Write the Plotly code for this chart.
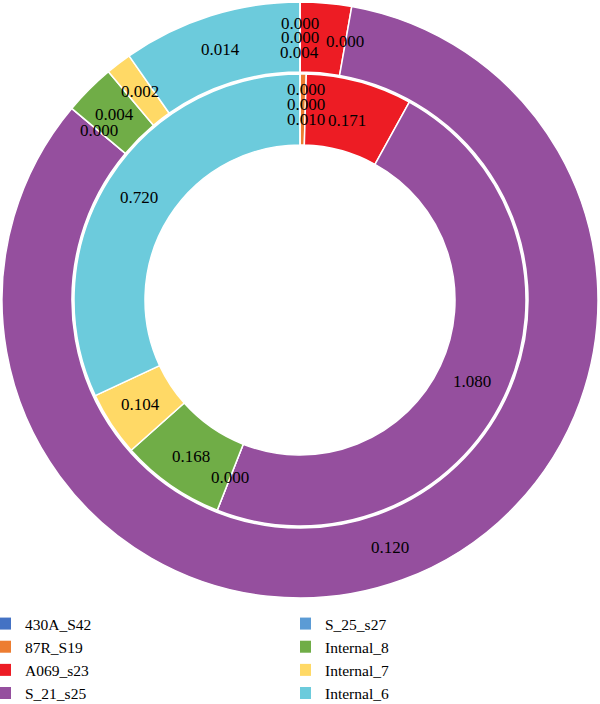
import math
import plotly.graph_objects as go

# ---- data ----
labels = ["430A_S42", "87R_S19", "A069_s23", "S_21_s25",
          "S_25_s27", "Internal_8", "Internal_7", "Internal_6", " "]
inner_values = [0.000, 0.010, 0.171, 1.080, 0.000, 0.168, 0.104, 0.720, 0.000]
outer_values = [0.000, 0.000, 0.004, 0.120, 0.000, 0.004, 0.002, 0.014, 0.000]
legend_labels = labels[:8]

# ---- styles ----
colors = ["#4472C4", "#ED7D31", "#ED1C24", "#954F9E",
          "#5B9BD5", "#70AD47", "#FFD966", "#6CCBDC", "#FFFFFF"]
FONT = "Liberation Serif"
W, H = 600, 704
CX, CY = 300, 300            # pie centre (px)
R_OUT, R_SEP, R_IN_OUT, R_HOLE = 298, 228, 226, 155
# small label nudges (px) to de-overlap the stacked labels at 12 o'clock
inner_nudge = {0: (6, 20), 1: (3, -10), 2: (-3, -4), 8: (6, 5)}
outer_nudge = {0: (0, 14), 1: (0, 0), 2: (-23, -14), 8: (45, -4)}

fig = go.Figure()


def ring(values, r_outer, r_hole):
    return go.Pie(
        labels=labels, values=values, sort=False, direction="clockwise",
        rotation=0, hole=r_hole / r_outer,
        domain=dict(x=[(CX - r_outer) / W, (CX + r_outer) / W],
                    y=[1 - (CY + r_outer) / H, 1 - (CY - r_outer) / H]),
        marker=dict(colors=colors, line=dict(color="white", width=1.5)),
        textinfo="none", showlegend=False, hoverinfo="label+value",
    )


fig.add_trace(ring(outer_values, R_OUT, R_SEP))
fig.add_trace(ring(inner_values, R_IN_OUT, R_HOLE))


def value_labels(values, r_in, r_out, nudge):
    total = sum(values)
    r = r_in + 0.5 * (r_out - r_in)
    cum = 0.0
    anns = []
    for i, v in enumerate(values):
        th = 2 * math.pi * (cum + v / 2) / total
        cum += v
        px = CX + r * math.sin(th)
        py = CY - r * math.cos(th)
        dx, dy = nudge.get(i, (0, 0))
        anns.append(dict(
            x=px / W, y=1 - py / H, xref="paper", yref="paper",
            xanchor="center", yanchor="middle",
            text=f"{v:.3f}", showarrow=False, xshift=dx, yshift=dy,
            font=dict(family=FONT, size=17, color="black"),
        ))
    return anns


annotations = (value_labels(outer_values, R_SEP, R_OUT, outer_nudge)
               + value_labels(inner_values, R_HOLE, R_IN_OUT, inner_nudge))

for i, lab in enumerate(legend_labels):
    fig.add_trace(go.Scatter(
        x=[None], y=[None], mode="markers", name=lab,
        marker=dict(symbol="square", size=12, color=colors[i]),
        legend="legend" if i < 4 else "legend2",
    ))

leg = dict(font=dict(family=FONT, size=15.5, color="black"),
           bgcolor="rgba(0,0,0,0)", itemsizing="constant",
           xanchor="left", yanchor="top", tracegroupgap=0,
           indentation=-15)
fig.update_layout(
    width=W, height=H,
    margin=dict(l=0, r=0, t=0, b=0, autoexpand=False),
    paper_bgcolor="white", plot_bgcolor="white",
    xaxis=dict(visible=False), yaxis=dict(visible=False),
    annotations=annotations,
    legend=dict(x=0.0, y=1 - 607 / H, **leg),
    legend2=dict(x=0.5, y=1 - 607 / H, **leg),
)

fig.write_html("out.html")
